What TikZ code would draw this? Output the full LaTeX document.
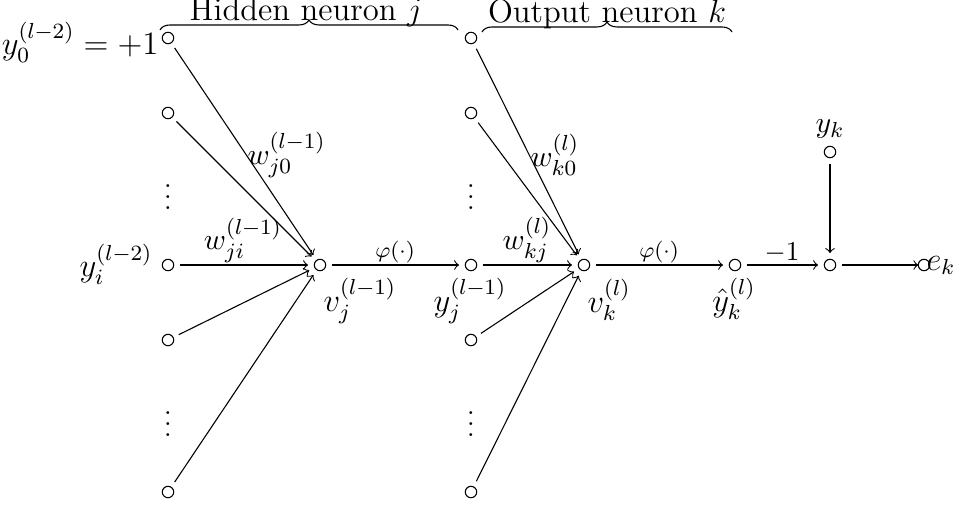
\documentclass[tikz,border=0pt]{standalone}
\usetikzlibrary{decorations.pathreplacing}
\begin{document}
\begin{tikzpicture}[x=0.3676pt,y=-0.3676pt,
  neuron/.style={circle,draw,line width=0.4pt,minimum size=4.2pt,inner sep=0pt,outer sep=2.3pt},
  endneuron/.style={neuron,outer sep=0pt},
  conn/.style={->,line width=0.4pt},
  lab/.style={inner sep=0pt,font=\large},
  wlab/.style={inner sep=0pt,font=\fontsize{10.95}{13}\selectfont},
  flab/.style={inner sep=0pt,font=\footnotesize},
  mlab/.style={inner sep=0pt,font=\normalsize},
  dotlab/.style={inner sep=0pt,anchor=base},
  brc/.style={decorate,decoration={brace,amplitude=3.7pt}}
]
\useasboundingbox (0,0) rectangle (956,506);

% input column
\node[neuron] (a0) at (168,38) {};
\node[neuron] (a1) at (168,113) {};
\node[dotlab] (ad1) at (168,209.5) {$\vdots$};
\node[neuron] (ai) at (168,265) {};
\node[neuron] (a2) at (168,340) {};
\node[dotlab] (ad2) at (168,436.5) {$\vdots$};
\node[neuron] (a3) at (168,492) {};

\node[neuron] (vj) at (320,265) {};

% hidden output column
\node[neuron] (b0) at (471,38) {};
\node[neuron] (b1) at (471,113) {};
\node[dotlab] (bd1) at (471,209.5) {$\vdots$};
\node[neuron] (yj) at (471,265) {};
\node[neuron] (b2) at (471,340) {};
\node[dotlab] (bd2) at (471,436.5) {$\vdots$};
\node[neuron] (b3) at (471,492) {};

\node[neuron] (vk) at (584,265) {};
\node[neuron] (yh) at (735,265) {};
\node[neuron] (s) at (830,265) {};
\node[neuron] (yk) at (830,152) {};
\node[endneuron] (ek) at (924,265) {};

% connectors
\foreach \n in {a0,a1,ai,a2,a3} \draw[conn] (\n) -- (vj);
\foreach \n in {b0,b1,yj,b2,b3} \draw[conn] (\n) -- (vk);
\draw[conn] (vj) -- (yj);
\draw[conn] (vk) -- (yh);
\draw[conn] (yh) -- (s);
\draw[conn] (yk) -- (s);
\draw[conn] (s) -- (ek);

% labels
\node[lab,anchor=east] (l0) at (159,42) {$y_0^{(l-2)}=+1$};
\node[lab,anchor=east] (li) at (153,264) {$y_i^{(l-2)}$};
\node[wlab,anchor=west] (wj0) at (247,155) {$w_{j0}^{(l-1)}$};
\node[wlab,anchor=south] (wji) at (243,263) {$w_{ji}^{(l-1)}$};
\node[lab,anchor=north west] (lvj) at (323,278) {$v_j^{(l-1)}$};
\node[flab,anchor=south] (phi1) at (395,263) {$\varphi(\cdot)$};
\node[lab,anchor=north] (lyj) at (470,278) {$y_j^{(l-1)}$};
\node[wlab,anchor=south] (wkj) at (527,263) {$w_{kj}^{(l)}$};
\node[wlab,anchor=west] (wk0) at (530,155) {$w_{k0}^{(l)}$};
\node[lab,anchor=north west] (lvk) at (587,279) {$v_k^{(l)}$};
\node[flab,anchor=south] (phi2) at (659,263) {$\varphi(\cdot)$};
\node[lab,anchor=north] (lyh) at (734,278) {$\hat{y}_k^{(l)}$};
\node[mlab,anchor=base] (m1) at (782,260) {$-1$};
\node[wlab,anchor=south] (lyk) at (830,139) {$y_k$};
\node[lab,anchor=base west] (lek) at (926,270) {$e_k$};

% braces
\draw[brc] (160,30) -- (458,30);
\draw[brc] (482,32) -- (732,32);
\node[lab,anchor=base] (th) at (306,20) {Hidden neuron $j$};
\node[lab,anchor=base] (to) at (607,22) {Output neuron $k$};
\end{tikzpicture}
\end{document}
